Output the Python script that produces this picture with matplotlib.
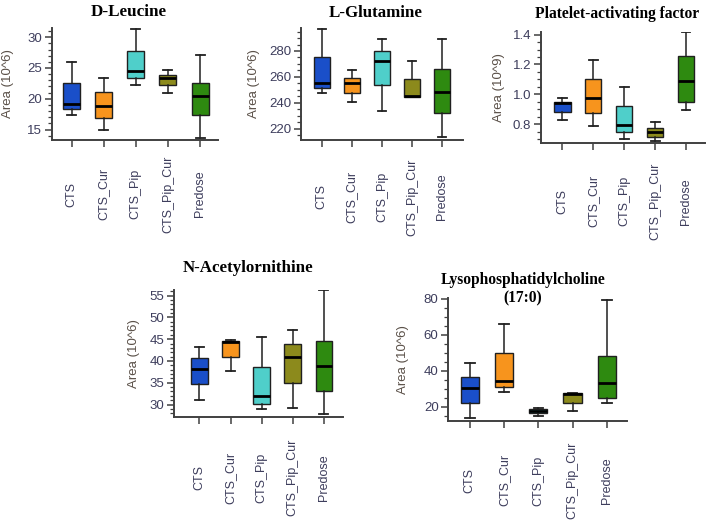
import matplotlib
matplotlib.use("Agg")
import matplotlib.pyplot as plt
from matplotlib.ticker import MultipleLocator

groups = ["CTS", "CTS_Cur", "CTS_Pip", "CTS_Pip_Cur", "Predose"]
colors = ["#1a4fc9", "#f7941d", "#4fcfca", "#8c8a1c", "#2e8a10"]

# whisker low, Q1, median, Q3, whisker high
leucine_lo = [17.3, 14.9, 22.2, 21.0, 13.7]
leucine_q1 = [18.3, 16.9, 23.3, 22.2, 17.3]
leucine_med = [19.2, 18.9, 24.5, 23.3, 20.5]
leucine_q3 = [22.5, 21.1, 27.8, 23.9, 22.6]
leucine_hi = [25.9, 23.4, 31.4, 24.6, 27.1]

glutamine_lo = [247.4, 241.0, 234.0, 244.5, 213.6]
glutamine_q1 = [251.3, 247.4, 253.8, 244.9, 232.6]
glutamine_med = [255.1, 255.6, 272.6, 245.2, 248.2]
glutamine_q3 = [275.1, 259.5, 280.3, 258.5, 266.2]
glutamine_hi = [296.7, 265.4, 289.0, 272.3, 289.0]

paf_lo = [0.829, 0.784, 0.702, 0.684, 0.896]
paf_q1 = [0.880, 0.873, 0.747, 0.716, 0.947]
paf_med = [0.940, 0.973, 0.796, 0.744, 1.087]
paf_q3 = [0.951, 1.100, 0.922, 0.771, 1.256]
paf_hi = [0.973, 1.233, 1.051, 0.816, 1.418]

nacetyl_lo = [31.1, 37.6, 28.9, 29.2, 27.8]
nacetyl_q1 = [34.7, 40.9, 30.2, 35.0, 33.1]
nacetyl_med = [38.2, 44.3, 31.9, 40.8, 38.8]
nacetyl_q3 = [40.7, 44.7, 38.6, 43.8, 44.7]
nacetyl_hi = [43.3, 44.9, 45.5, 47.2, 56.3]

lpc_lo = [13.9, 28.4, 14.8, 17.8, 22.2]
lpc_q1 = [21.9, 30.8, 16.3, 22.2, 25.0]
lpc_med = [30.2, 34.5, 17.6, 26.9, 33.4]
lpc_q3 = [36.7, 50.1, 18.5, 27.4, 47.9]
lpc_hi = [44.1, 66.1, 19.4, 27.8, 79.1]

titles = ["D-Leucine", "L-Glutamine", "Platelet-activating factor",
          "N-Acetylornithine", "Lysophosphatidylcholine\n(17:0)"]
ylabels = ["Area (10^6)", "Area (10^6)", "Area (10^9)", "Area (10^6)", "Area (10^6)"]

W, H = 708, 528
fig = plt.figure(figsize=(W / 100, H / 100), dpi=100)

TICK_C = "#3d3d5c"
LAB_C = "#5a5048"
SPINE_C = "#404040"

panels = [
    dict(px=(52, 218, 28, 140), xlim=(-0.61, 4.56), ylim=(13.3, 31.5), major=5, minor=1,
         lab=-37.5, data=(leucine_lo, leucine_q1, leucine_med, leucine_q3, leucine_hi),
         ty=12, tx=129, ts=12.3, xpad=34),
    dict(px=(301, 463, 28, 140), xlim=(-0.69, 4.69), ylim=(211.5, 297.7), major=20, minor=5,
         lab=-41, data=(glutamine_lo, glutamine_q1, glutamine_med, glutamine_q3, glutamine_hi),
         ty=13, tx=376, ts=12.2, xpad=36),
    dict(px=(541, 705, 32, 143), xlim=(-0.69, 4.61), ylim=(0.673, 1.418), major=0.2, minor=0.05,
         lab=-36, data=(paf_lo, paf_q1, paf_med, paf_q3, paf_hi),
         ty=14, tx=617, ts=11.2, xpad=37),
    dict(px=(174, 343, 290, 416.7), xlim=(-0.82, 4.62), ylim=(27.2, 56.3), major=5, minor=1,
         lab=-34, data=(nacetyl_lo, nacetyl_q1, nacetyl_med, nacetyl_q3, nacetyl_hi),
         ty=268, tx=248, ts=12.2, xpad=39),
    dict(px=(448.3, 627, 298, 420.7), xlim=(-0.63, 4.59), ylim=(12.2, 80.4), major=20, minor=5,
         lab=-39, data=(lpc_lo, lpc_q1, lpc_med, lpc_q3, lpc_hi),
         ty=289, tx=523, ts=11.2, xpad=38),
]

for i, p in enumerate(panels):
    l, r, t, b = p["px"]
    ax = fig.add_axes([l / W, 1 - b / H, (r - l) / W, (b - t) / H])
    lo, q1, med, q3, hi = p["data"]
    stats = [dict(whislo=lo[k], q1=q1[k], med=med[k], q3=q3[k], whishi=hi[k], label=groups[k])
             for k in range(len(groups))]
    bp = ax.bxp(stats, positions=range(len(groups)), widths=0.53, showfliers=False,
                patch_artist=True,
                boxprops=dict(edgecolor="#202020", linewidth=1.0),
                medianprops=dict(color="black", linewidth=2.0),
                whiskerprops=dict(color="#202020", linewidth=1.1),
                capprops=dict(color="#202020", linewidth=1.3),
                capwidths=0.28)
    for patch, c in zip(bp["boxes"], colors):
        patch.set_facecolor(c)
    ax.set_xlim(*p["xlim"])
    ax.set_ylim(*p["ylim"])
    for s in ["top", "right"]:
        ax.spines[s].set_visible(False)
    for s in ["left", "bottom"]:
        ax.spines[s].set_color(SPINE_C)
        ax.spines[s].set_linewidth(1.4)
    ax.yaxis.set_major_locator(MultipleLocator(p["major"]))
    ax.yaxis.set_minor_locator(MultipleLocator(p["minor"]))
    if p["major"] < 1:
        ax.yaxis.set_major_formatter(matplotlib.ticker.FormatStrFormatter("%.1f"))
    ax.tick_params(axis="y", which="major", length=5, width=1.1, color=SPINE_C,
                   labelsize=9.5, labelcolor=TICK_C, pad=2)
    ax.tick_params(axis="y", which="minor", length=3, width=0.9, color=SPINE_C)
    ax.set_xticks(range(len(groups)))
    ax.set_xticklabels(groups, rotation=90, va="center", ha="center",
                       fontsize=9, color=TICK_C, family="Liberation Sans")
    ax.tick_params(axis="x", length=5, width=1.1, color=SPINE_C, pad=p["xpad"])
    for lab in ax.get_yticklabels():
        lab.set_family("Liberation Sans")
    ax.set_ylabel(ylabels[i], fontsize=9.5, color=LAB_C, family="Liberation Sans")
    ax.yaxis.set_label_coords(p["lab"] / (r - l), 0.5)
    fig.text(p["tx"] / W, 1 - p["ty"] / H, titles[i], ha="center", va="center",
             fontsize=p["ts"], fontweight="bold", family="Liberation Serif",
             linespacing=1.2)

fig.savefig("out.png", dpi=100)
